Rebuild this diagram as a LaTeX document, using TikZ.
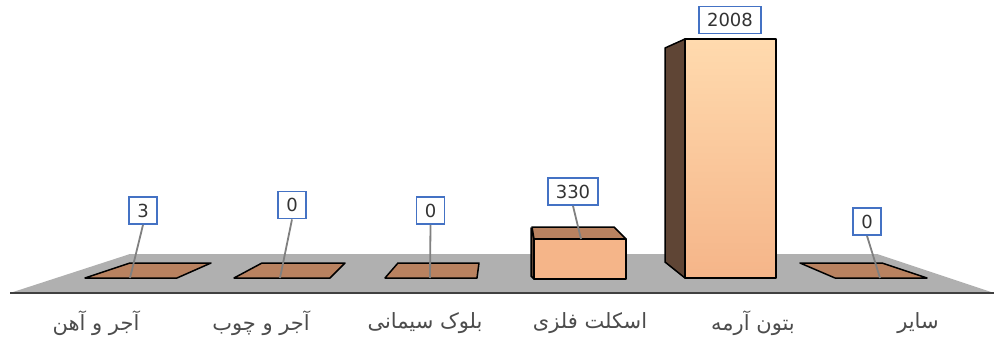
\documentclass[tikz,border=0pt]{standalone}
\usepackage{fontspec}
\setmainfont{DejaVu Sans}
\newfontfamily\farsifont[Script=Arabic]{DejaVu Sans}
\TeXXeTstate=1
\definecolor{floorgray}{HTML}{B0B0B0}
\definecolor{edgegray}{HTML}{404040}
\definecolor{barbrown}{HTML}{B98260}
\definecolor{barside}{HTML}{5F4535}
\definecolor{barfront}{HTML}{F5B589}
\definecolor{bartop}{HTML}{FFDAAE}
\definecolor{boxblue}{HTML}{4472C4}

\begin{document}
\begin{tikzpicture}[x=1pt,y=-1pt]
	\tikzstyle{flatbar} = [fill=barbrown,draw=black,line width=1.5pt,line join=round]
	\tikzstyle{valbox} = [draw=boxblue,fill=white,line width=1.8pt,minimum height=27pt,inner xsep=3pt,text=black!80,font=\fontsize{18}{18}\selectfont]
	\tikzstyle{leader} = [draw=gray,line width=1.8pt]
	\tikzstyle{catlabel} = [text=black!70,font=\fontsize{21}{21}\selectfont\farsifont]
	\useasboundingbox (0,0) rectangle (994,342);
	% floor
	\fill[floorgray] (10,293) -- (130,254) -- (877,254) -- (994,293) -- cycle;
	\draw[edgegray,line width=2.2pt] (10,293) -- (994,293);
	% flat bars (zero values)
	\foreach \bl/\br/\tr/\tl in {85/177/211/130, 234/330/345/262, 385/477/479/398, 835/927/882/800}
		\draw[flatbar] (\bl,278) -- (\br,278) -- (\tr,263) -- (\tl,263) -- cycle;
	% bar 330
	\draw[flatbar,fill=barside] (531,228) -- (534,239) -- (534,279) -- (531,276) -- cycle;
	\draw[flatbar] (534,239) -- (626,239) -- (614,227) -- (532,227) -- cycle;
	\draw[flatbar,fill=barfront] (534,239) rectangle (626,279);
	% bar 2008
	\draw[flatbar,fill=barside] (665,48) -- (685,39) -- (685,278) -- (665,262) -- cycle;
	\draw[flatbar,top color=bartop,bottom color=barfront] (685,39) rectangle (776,278);
	% value labels
	\node[valbox,minimum width=28pt] (val1) at (143,210.5) {3};
	\node[valbox,minimum width=28pt] (val2) at (292,205) {0};
	\node[valbox,minimum width=28pt] (val3) at (430.5,210.5) {0};
	\node[valbox,minimum width=50pt] (val4) at (573,191.5) {330};
	\node[valbox,minimum width=62pt] (val5) at (730,20) {2008};
	\node[valbox,minimum width=28pt] (val6) at (867,221.5) {0};
	\coordinate (tip1) at (130,278);
	\coordinate (tip2) at (280,278);
	\coordinate (tip3) at (430,278);
	\coordinate (tip4) at (581,239);
	\coordinate (tip6) at (880,278);
	\foreach \i in {1,2,3,4,6}
		\draw[leader] (val\i.south) -- (tip\i);
	% category labels
	\foreach \i/\x/\txt in {1/96/آجر و آهن, 2/261/آجر و چوب, 3/425/بلوک سیمانی, 4/590/اسکلت فلزی, 5/753/بتون آرمه, 6/918/سایر}
		\node[catlabel] (cat\i) at (\x,323) {\beginR \txt\endR};
\end{tikzpicture}
\end{document}
